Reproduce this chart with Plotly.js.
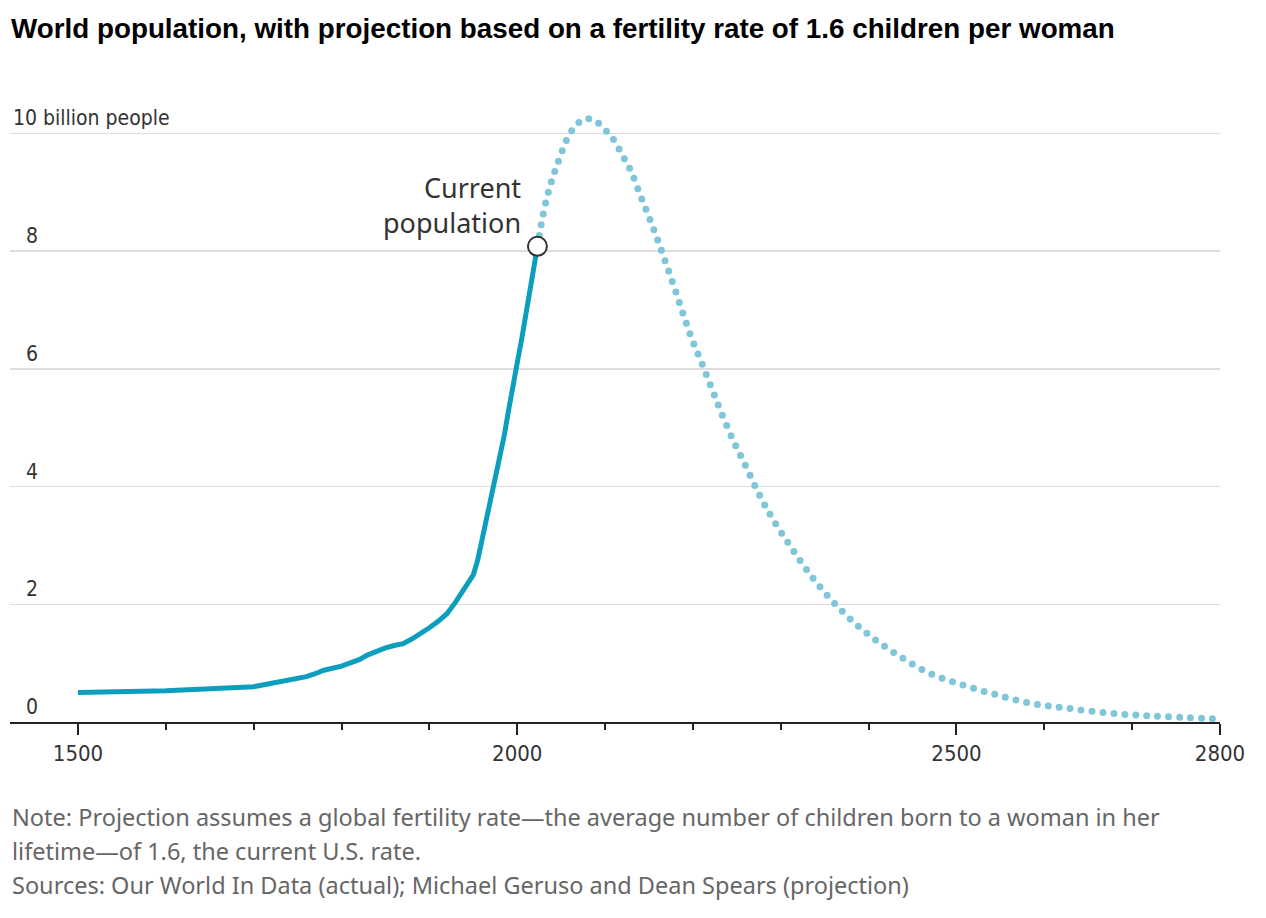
<!DOCTYPE html>
<html>
<head>
<meta charset="utf-8">
<script src="https://cdn.plot.ly/plotly-3.0.1.min.js"></script>
<style>
  html, body { margin: 0; padding: 0; background: #fff; }
  #chart { width: 1266px; height: 918px; }
</style>
</head>
<body>
<div id="chart"></div>
<script>
// ---- data (billions of people) ----
const histYears = [1500,1600,1700,1720,1740,1760,1770,1780,1800,1810,1820,1830,1840,1850,1860,1870,1880,1890,1900,1910,1920,1930,1940,1950,1955,1960,1965,1970,1975,1980,1985,1990,1995,2000,2005,2010,2015,2020,2023];
const histPop   = [0.50,0.53,0.60,0.65,0.70,0.77,0.82,0.88,0.95,1.00,1.06,1.14,1.21,1.26,1.30,1.33,1.41,1.50,1.60,1.71,1.84,2.04,2.28,2.50,2.75,3.10,3.40,3.72,4.06,4.45,4.85,5.28,5.65,6.10,6.50,6.92,7.35,7.80,8.08];

const projYears = [2023,2027,2033,2040,2048,2059,2070,2080,2090,2100,2108,2120,2130,2140,2150,2160,2170,2180,2190,2200,2210,2220,2230,2245,2260,2275,2290,2313,2340,2372,2403,2435,2469,2507,2546,2583,2623,2674,2725,2800];
const projPop   = [8.08,8.43,8.86,9.23,9.57,9.97,10.18,10.25,10.20,10.06,9.93,9.62,9.34,8.95,8.58,8.18,7.76,7.33,6.88,6.46,6.10,5.72,5.34,4.81,4.35,3.88,3.47,2.94,2.38,1.85,1.45,1.12,0.83,0.63,0.46,0.32,0.24,0.15,0.10,0.05];

const currentYear = [2023];
const currentPop  = [8.08];

const xTickVals = [1500, 2000, 2500, 2800];
const xTickText = ['1500', '2000', '2500', '2800'];
const yTickVals = [0, 2, 4, 6, 8, 10];
const yTickText = ['0', '2', '4', '6', '8', '10 billion people'];

const titleText = 'World population, with projection based on a fertility rate of 1.6 children per woman';
const noteLines = [
  'Note: Projection assumes a global fertility rate\u2014the average number of children born to a woman in her',
  'lifetime\u2014of 1.6, the current U.S. rate.',
  'Sources: Our World In Data (actual); Michael Geruso and Dean Spears (projection)'
];
const calloutText = 'Current<br>population';

// ---- styling ----
const narrow = '"Liberation Sans Narrow", "DejaVu Sans Condensed", "Roboto", sans-serif';
const body = '"Noto Sans", "Open Sans", sans-serif';

const traces = [
  {
    x: projYears, y: projPop, type: 'scatter', mode: 'lines',
    line: { color: '#7fc6d8', width: 7, dash: '0px,11px', shape: 'spline', smoothing: 1 },
    hoverinfo: 'skip', name: 'projection'
  },
  {
    x: histYears, y: histPop, type: 'scatter', mode: 'lines',
    line: { color: '#0b9fbd', width: 5 },
    hoverinfo: 'skip', name: 'actual'
  },
  {
    x: currentYear, y: currentPop, type: 'scatter', mode: 'markers',
    marker: { size: 19, color: '#ffffff', line: { color: '#333333', width: 2 } },
    hoverinfo: 'skip', name: 'current'
  }
];

const annotations = [];
yTickVals.forEach((v, i) => {
  const isTop = i === yTickVals.length - 1;
  annotations.push({
    xref: 'paper', yref: 'y',
    x: isTop ? 1 / 1210 : 14 / 1210, y: v,
    xanchor: 'left', yanchor: 'bottom', yshift: 1,
    text: yTickText[i], showarrow: false,
    font: { family: narrow, size: 21, color: '#333333' }
  });
});
annotations.push({
  xref: 'x', yref: 'y', x: 2023, y: 8.08,
  xanchor: 'right', yanchor: 'bottom', xshift: -14, yshift: 3,
  align: 'right', text: calloutText, showarrow: false,
  font: { family: body, size: 27, color: '#333333' }
});
noteLines.forEach((t, i) => {
  annotations.push({
    xref: 'paper', yref: 'paper',
    x: 0, y: (722 - 817 - i * 34) / 624,
    xanchor: 'left', yanchor: 'middle',
    text: t, showarrow: false,
    font: { family: body, size: 23.5, color: '#666666' }
  });
});

const layout = {
  width: 1266, height: 918,
  margin: { l: 10, r: 46, t: 98, b: 196 },
  paper_bgcolor: '#ffffff', plot_bgcolor: '#ffffff',
  showlegend: false,
  title: {
    text: '<b>' + titleText + '</b>',
    xref: 'container', yref: 'container',
    x: 11 / 1266, xanchor: 'left',
    y: 1 - 28 / 918, yanchor: 'middle',
    font: { family: '"Liberation Sans", "Arimo", sans-serif', size: 27.8, color: '#000000' }
  },
  xaxis: {
    range: [1422.6, 2800],
    tickmode: 'array', tickvals: xTickVals, ticktext: xTickText,
    ticks: 'outside', ticklen: 11, tickwidth: 2, tickcolor: '#222222',
    minor: { tickmode: 'linear', tick0: 1500, dtick: 100, ticks: 'outside', ticklen: 6, tickwidth: 2, tickcolor: '#222222', showgrid: false },
    showline: true, linecolor: '#222222', linewidth: 2,
    showgrid: false, zeroline: false,
    tickfont: { family: narrow, size: 22, color: '#333333' },
    fixedrange: true
  },
  yaxis: {
    range: [0, 10.6],
    tickmode: 'array', tickvals: yTickVals,
    showticklabels: false, ticks: '',
    showgrid: true, gridcolor: '#dddddd', gridwidth: 1.5,
    zeroline: false, showline: false,
    fixedrange: true
  },
  annotations: annotations
};

function roundDots() {
  document.querySelectorAll('#chart .js-line').forEach(p => {
    const d = p.style.strokeDasharray || p.getAttribute('stroke-dasharray') || '';
    if (/^0/.test(d.trim())) {
      p.style.strokeLinecap = 'round';
    }
  });
}

Plotly.newPlot('chart', traces, layout, { staticPlot: true, displayModeBar: false }).then(gd => {
  roundDots();
  gd.on('plotly_afterplot', roundDots);
});
</script>
</body>
</html>
